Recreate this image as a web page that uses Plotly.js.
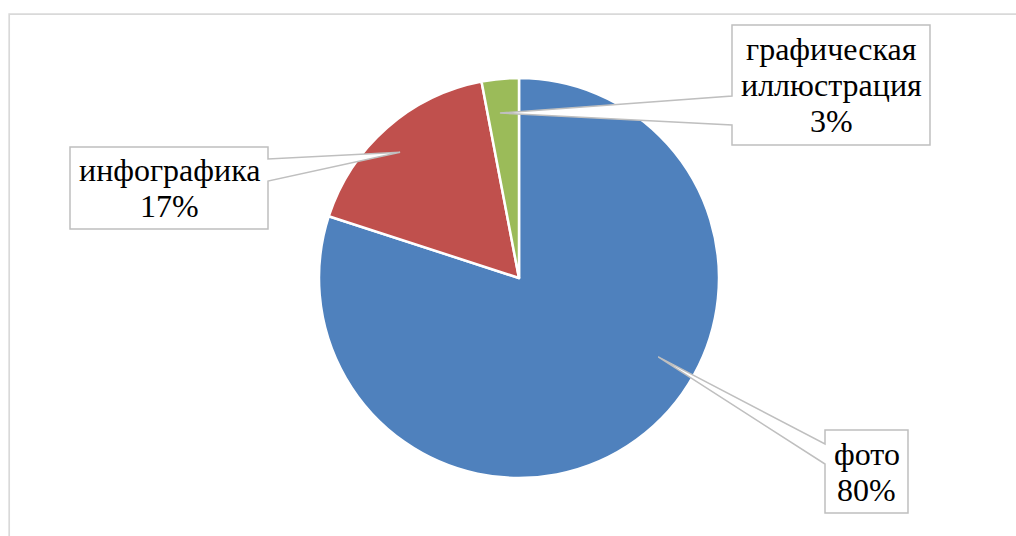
<!DOCTYPE html>
<html>
<head>
<meta charset="utf-8">
<script src="https://cdn.plot.ly/plotly-3.0.1.min.js"></script>
<style>html,body{margin:0;padding:0;background:#fff;}#chart{width:1016px;height:536px;}</style>
</head>
<body>
<div id="chart"></div>
<script>
// ---- data ----
const categories = ['фото', 'инфографика', 'графическая иллюстрация'];
const values = [80, 17, 3];
const labelLines = [['фото'], ['инфографика'], ['графическая', 'иллюстрация']];
const colors = ['#4F81BD', '#C0504D', '#9BBB59'];

// ---- layout constants (pixels) ----
const W = 1016, H = 536;
const cx = 519, cy = 278, R = 200;
const boxes = [
  {l: 825, t: 430, r: 908, b: 513, side: 'left', a1: 444, a2: 464, tipFrac: 0.415, tipR: 0.80},
  {l: 70, t: 147, r: 268, b: 229, side: 'right', a1: 159, a2: 181, tipFrac: 0.467, tipR: 0.865},
  {l: 732, t: 25, r: 930, b: 145, side: 'left', a1: 96, a2: 125, tipFrac: 0.39, tipR: 0.83}
];
const lineStep = 36;
const fontSize = 32;
const serif = 'Times New Roman, Liberation Serif, Tinos, serif';
const textColor = '#000000';

const px = x => x / W;
const py = y => 1 - y / H;

const total = values.reduce((a, b) => a + b, 0);
const shapes = [{
  type: 'rect', xref: 'paper', yref: 'paper',
  x0: px(9.2), x1: px(W + 20), y0: py(14.2), y1: py(H + 20),
  line: {color: '#D9D9D9', width: 1.7}, fillcolor: 'rgba(0,0,0,0)', layer: 'below'
}];
const annotations = [];
let cum = 0;
values.forEach((v, i) => {
  const start = cum / total * 360;
  const span = v / total * 360;
  cum += v;
  const b = boxes[i];
  const ang = (start + b.tipFrac * span) * Math.PI / 180;
  const tx = cx + b.tipR * R * Math.sin(ang);
  const ty = cy - b.tipR * R * Math.cos(ang);
  let pts;
  if (b.side === 'left') {
    pts = [[b.l, b.t], [b.r, b.t], [b.r, b.b], [b.l, b.b], [b.l, b.a2], [tx, ty], [b.l, b.a1]];
  } else {
    pts = [[b.l, b.t], [b.r, b.t], [b.r, b.a1], [tx, ty], [b.r, b.a2], [b.r, b.b], [b.l, b.b]];
  }
  const path = 'M ' + pts.map(p => px(p[0]).toFixed(5) + ',' + py(p[1]).toFixed(5)).join(' L ') + ' Z';
  shapes.push({type: 'path', xref: 'paper', yref: 'paper', path: path,
    fillcolor: '#FFFFFF', line: {color: '#BFBFBF', width: 1.5}, layer: 'above'});
  const lines = labelLines[i].concat([Math.round(v / total * 100) + '%']);
  const ccx = (b.l + b.r) / 2, ccy = (b.t + b.b) / 2;
  lines.forEach((t, k) => {
    const y = ccy + (k - (lines.length - 1) / 2) * lineStep;
    annotations.push({xref: 'paper', yref: 'paper', x: px(ccx), y: py(y),
      xanchor: 'center', yanchor: 'middle', showarrow: false, text: t,
      font: {family: serif, size: fontSize, color: textColor}});
  });
});

const trace = {
  type: 'pie', labels: categories, values: values, sort: false,
  direction: 'clockwise', rotation: 0, textinfo: 'none', hoverinfo: 'skip',
  marker: {colors: colors, line: {color: '#FFFFFF', width: 2.5}},
  domain: {x: [px(cx - R), px(cx + R)], y: [py(cy + R), py(cy - R)]},
  showlegend: false
};

Plotly.newPlot('chart', [trace], {
  width: W, height: H, margin: {l: 0, r: 0, t: 0, b: 0},
  paper_bgcolor: '#FFFFFF', showlegend: false,
  font: {family: serif, color: textColor},
  shapes: shapes, annotations: annotations
}, {displayModeBar: false});
</script>
</body>
</html>
